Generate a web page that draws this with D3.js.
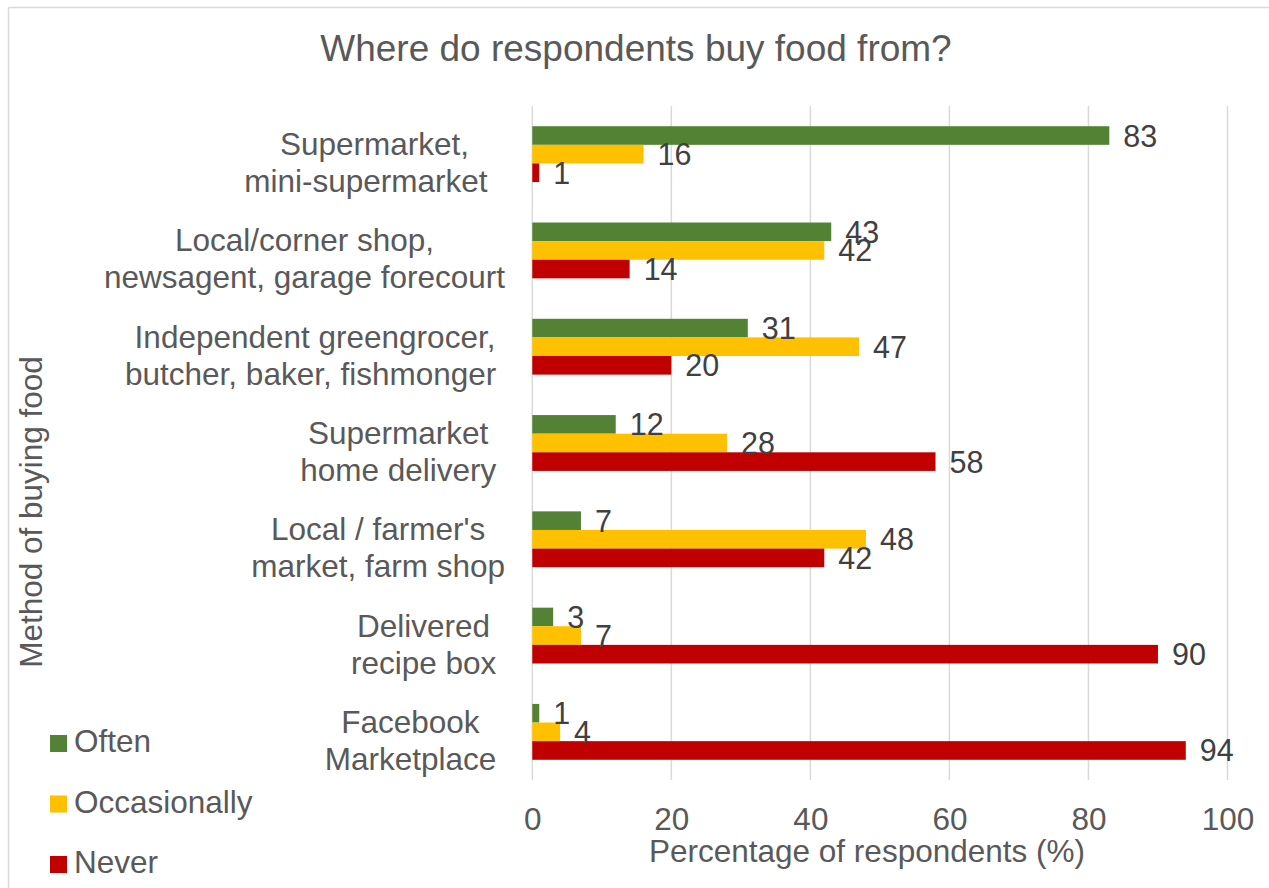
<!DOCTYPE html>
<html>
<head>
<meta charset="utf-8">
<script src="https://cdn.jsdelivr.net/npm/d3@7"></script>
<style>
  html, body { margin: 0; padding: 0; background: #ffffff; }
  svg { display: block; font-family: "Liberation Sans", Arial, sans-serif; }
</style>
</head>
<body>
<svg id="chart" width="1269" height="888"></svg>
<script>
// Survey categories (each entry holds the wrapped lines of the axis label)
const categories = [
  ["Supermarket,", "mini-supermarket  "],
  ["Local/corner shop,", "newsagent, garage forecourt"],
  ["Independent greengrocer,", "butcher, baker, fishmonger "],
  ["Supermarket ", "home delivery "],
  ["Local / farmer's", "market, farm shop"],
  ["Delivered ", "recipe box "],
  ["Facebook ", "Marketplace "]
];
const seriesNames = ["Often", "Occasionally", "Never"];
const seriesColors = ["#548235", "#FFC000", "#C00000"];

// Percentage of respondents per category
const often        = [83, 43, 31, 12, 7, 3, 1];
const occasionally = [16, 42, 47, 28, 48, 7, 4];
const never        = [1, 14, 20, 58, 42, 90, 94];
const seriesValues = [often, occasionally, never];

const xTicks = [0, 20, 40, 60, 80, 100];

const svg = d3.select("#chart");
const textGrey = "#595959";
const labelDark = "#404040";
const gridGrey = "#d9d9d9";

// Chart frame (top and left edges visible)
svg.append("line").attr("x1", 8.5).attr("x2", 1269).attr("y1", 7.5).attr("y2", 7.5)
  .attr("stroke", gridGrey).attr("stroke-width", 1.5);
svg.append("line").attr("x1", 8.5).attr("x2", 8.5).attr("y1", 7.5).attr("y2", 888)
  .attr("stroke", gridGrey).attr("stroke-width", 1.5);

const plotTop = 106, plotBottom = 780;
const x = d3.scaleLinear().domain([0, 100]).range([532.3, 1227.5]);
const catIdx = d3.range(categories.length);
const y = d3.scaleBand().domain(catIdx).range([plotTop, plotBottom])
  .paddingInner(0.42).paddingOuter(0.21);
const ySub = d3.scaleBand().domain(d3.range(seriesNames.length))
  .range([0, y.bandwidth()]).padding(0);

// Title
svg.append("text").attr("x", 636).attr("y", 61)
  .attr("text-anchor", "middle").attr("font-size", 37).attr("fill", textGrey)
  .text("Where do respondents buy food from?");

// Vertical gridlines
svg.append("g").selectAll("line").data(xTicks).join("line")
  .attr("x1", d => x(d)).attr("x2", d => x(d))
  .attr("y1", plotTop).attr("y2", plotBottom)
  .attr("stroke", gridGrey).attr("stroke-width", 1.5);

// X axis tick labels
const xAxis = d3.axisBottom(x).tickValues(xTicks).tickSize(0).tickPadding(0).tickFormat(d3.format("d"));
const gx = svg.append("g").attr("transform", `translate(0,${plotBottom})`).call(xAxis);
gx.select(".domain").remove();
gx.selectAll("text").attr("font-size", 31.5).attr("fill", textGrey)
  .attr("font-family", "Liberation Sans, Arial, sans-serif")
  .attr("dy", null).attr("y", 50);

// Bars
const groups = svg.append("g").selectAll("g").data(catIdx).join("g")
  .attr("transform", i => `translate(0,${y(i)})`);

groups.selectAll("rect")
  .data(i => seriesValues.map((vals, s) => ({ s, v: vals[i] })))
  .join("rect")
  .attr("x", x(0))
  .attr("y", d => ySub(d.s))
  .attr("width", d => x(d.v) - x(0))
  .attr("height", ySub.bandwidth())
  .attr("fill", d => seriesColors[d.s]);

// Value labels
groups.selectAll("text.val")
  .data(i => seriesValues.map((vals, s) => ({ s, v: vals[i] })))
  .join("text").attr("class", "val")
  .attr("x", d => x(d.v) + 14)
  .attr("y", d => ySub(d.s) + ySub.bandwidth() / 2 + 11)
  .attr("font-size", 30.5).attr("fill", labelDark)
  .text(d => d.v);

// Category labels: lines centred on each other, block right-aligned
const labelRight = 505;
const catG = svg.append("g");
catIdx.forEach(i => {
  const lines = categories[i];
  const cy = y(i) + y.bandwidth() / 2;
  const t = catG.append("text").attr("font-size", 31.5).attr("fill", textGrey)
    .attr("text-anchor", "middle").style("white-space", "pre");
  const spans = lines.map((ln, k) => t.append("tspan").attr("y", cy + 1 + k * 37).text(ln));
  const widths = spans.map(sp => sp.node().getComputedTextLength());
  const cx = labelRight - d3.max(widths) / 2;
  spans.forEach(sp => sp.attr("x", cx));
});

// Axis titles
svg.append("text").attr("x", 867).attr("y", 862)
  .attr("text-anchor", "middle").attr("font-size", 31.5).attr("fill", textGrey)
  .text("Percentage of respondents (%)");
svg.append("text").attr("transform", "translate(42,512) rotate(-90)")
  .attr("text-anchor", "middle").attr("font-size", 31.5).attr("fill", textGrey)
  .text("Method of buying food");

// Legend
const legend = svg.append("g").selectAll("g").data(seriesNames).join("g")
  .attr("transform", (d, i) => `translate(50,${752 + i * 60.5})`);
legend.append("rect").attr("x", 0).attr("y", -17).attr("width", 17).attr("height", 17)
  .attr("fill", (d, i) => seriesColors[i]);
legend.append("text").attr("x", 24).attr("y", 0)
  .attr("font-size", 31.5).attr("fill", textGrey).text(d => d);
</script>
</body>
</html>
